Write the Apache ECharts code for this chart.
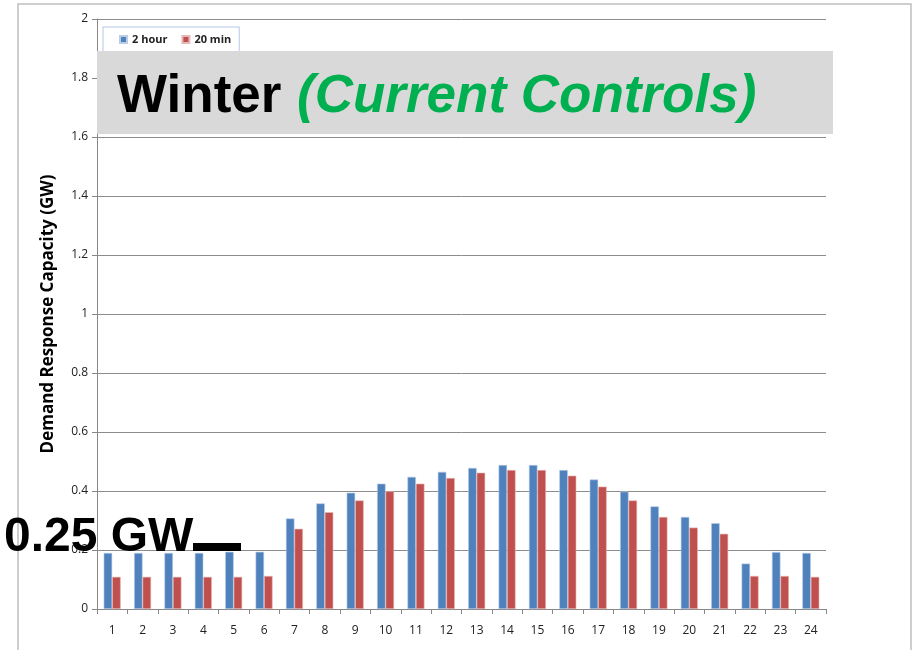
<!DOCTYPE html>
<html>
<head>
<meta charset="utf-8">
<script src="https://cdn.jsdelivr.net/npm/echarts@6/dist/echarts.min.js"></script>
<style>
  html, body { margin: 0; padding: 0; background: #fff; }
  #main { width: 917px; height: 650px; }
</style>
</head>
<body>
<div id="main"></div>
<script>
var hours = ['1', '2', '3', '4', '5', '6', '7', '8', '9', '10', '11', '12',
    '13', '14', '15', '16', '17', '18', '19', '20', '21', '22', '23', '24']
var twoHour = [0.19, 0.19, 0.19, 0.19, 0.194, 0.194, 0.307, 0.358, 0.394, 0.425, 0.448, 0.465,
    0.478, 0.488, 0.488, 0.471, 0.439, 0.398, 0.348, 0.312, 0.291, 0.154, 0.193, 0.19]
var twentyMin = [0.109, 0.109, 0.109, 0.109, 0.109, 0.112, 0.272, 0.328, 0.368, 0.399, 0.425, 0.444,
    0.462, 0.471, 0.471, 0.452, 0.415, 0.368, 0.312, 0.276, 0.255, 0.112, 0.112, 0.109]

var dom = echarts.init(document.getElementById('main'))

var options = {
    animation: false,
    backgroundColor: '#fff',
    grid: {
        left: 97,
        right: 91,
        top: 19,
        bottom: 41
    },
    legend: {
        data: ['2 hour', '20 min'],
        left: 103,
        top: 27,
        padding: [7, 8, 14, 16],
        borderColor: '#b4c7e7',
        borderWidth: 1,
        itemWidth: 7,
        itemHeight: 7,
        itemGap: 14,
        icon: 'rect',
        textStyle: {
            fontFamily: 'Open Sans',
            fontWeight: 'bold',
            fontSize: 11,
            color: '#222'
        }
    },
    xAxis: {
        type: 'category',
        data: hours,
        axisLine: { lineStyle: { color: '#888' } },
        axisTick: { show: true, length: 5, lineStyle: { color: '#888' } },
        axisLabel: {
            margin: 16,
            fontFamily: 'Open Sans',
            fontSize: 12,
            color: '#222'
        }
    },
    yAxis: {
        type: 'value',
        min: 0,
        max: 2,
        interval: 0.2,
        name: 'Demand Response Capacity (GW)',
        nameLocation: 'middle',
        nameGap: 40,
        nameTextStyle: {
            fontFamily: 'Open Sans',
            fontWeight: 'bold',
            fontSize: 17,
            color: '#000'
        },
        axisLine: { show: true, lineStyle: { color: '#888' } },
        axisTick: { show: true, length: 5, lineStyle: { color: '#888' } },
        axisLabel: {
            margin: 9,
            fontFamily: 'Open Sans',
            fontSize: 12,
            color: '#222'
        },
        splitLine: { lineStyle: { color: '#8c8c8c', width: 1 } }
    },
    series: [
        {
            name: '2 hour',
            type: 'bar',
            data: twoHour,
            barGap: '0%',
            barCategoryGap: '44%',
            itemStyle: { color: '#4f81bd', borderColor: '#b9cde5', borderWidth: 0.6 }
        },
        {
            name: '20 min',
            type: 'bar',
            data: twentyMin,
            itemStyle: { color: '#c0504d', borderColor: '#e6b9b8', borderWidth: 0.6 }
        }
    ],
    graphic: [
        {
            type: 'rect',
            z: 0,
            silent: true,
            shape: { x: 18, y: 4, width: 893, height: 660 },
            style: { fill: 'none', stroke: '#bfbfbf', lineWidth: 1.5 }
        },
        {
            type: 'rect',
            z: 100,
            silent: true,
            shape: { x: 97, y: 51, width: 736, height: 83 },
            style: { fill: '#d9d9d9' }
        },
        {
            type: 'text',
            z: 101,
            left: 117,
            top: 71,
            style: {
                text: 'Winter',
                fontFamily: 'Liberation Sans',
                fontWeight: 'bold',
                fontSize: 53,
                fill: '#000'
            }
        },
        {
            type: 'text',
            z: 101,
            left: 297,
            top: 71,
            style: {
                text: '(Current Controls)',
                fontFamily: 'Liberation Sans',
                fontWeight: 'bold',
                fontStyle: 'italic',
                fontSize: 53,
                fill: '#00b050'
            }
        },
        {
            type: 'text',
            z: 101,
            left: 4,
            top: 514,
            style: {
                text: '0.25 GW',
                fontFamily: 'Liberation Sans',
                fontWeight: 'bold',
                fontSize: 48,
                fill: '#000'
            }
        },
        {
            type: 'rect',
            z: 101,
            shape: { x: 193, y: 543, width: 48, height: 8 },
            style: { fill: '#000' }
        }
    ]
}

dom.setOption(options)
</script>
</body>
</html>
